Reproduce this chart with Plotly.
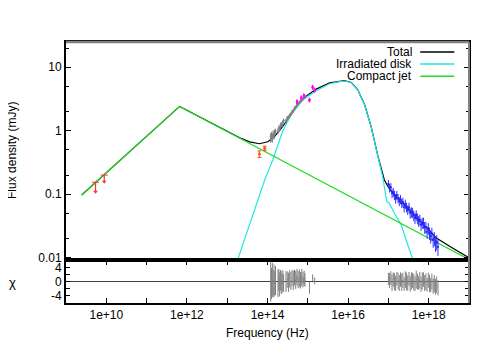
import plotly.graph_objects as go

# model curves (Hz, mJy)
jet_freq = [2.45e9, 6.61e11, 1e19]
jet_flux = [0.097, 2.42, 0.0094]

disk_freq = [1.82e13, 8.51e13, 1.35e14, 2.0e14, 2.40e14, 3.98e14, 7.59e14, 1.62e15, 3.47e15,
             6.17e15, 8.71e15, 1.20e16, 1.74e16, 2.57e16, 3.72e16, 5.50e16, 7.24e16, 9.12e16,
             1.05e17, 1.41e17, 2.09e17, 2.75e17, 4.07e17]
disk_flux = [0.0093, 0.1675, 0.346, 0.69, 1.0, 1.86, 3.09, 4.27, 5.50,
             5.92, 6.07, 5.70, 4.38, 2.54, 1.16, 0.389, 0.186, 0.0762,
             0.0719, 0.0501, 0.0327, 0.0191, 0.0091]

total_freq = [2.45e9, 6.61e11, 2.04e13, 3.63e13, 6.31e13, 1.02e14, 1.48e14, 2.19e14, 3.55e14,
              5.62e14, 9.12e14, 1.62e15, 3.47e15, 8.13e15, 1.20e16, 1.74e16, 2.57e16, 3.72e16,
              5.50e16, 6.61e16, 7.94e16, 9.77e16, 1.41e17, 2.29e17, 5.89e17, 1.55e18, 3.98e18, 1e19]
total_flux = [0.097, 2.42, 0.776, 0.668, 0.624, 0.671, 0.805, 1.09, 1.66,
              2.54, 3.51, 4.52, 5.69, 6.17, 5.75, 4.42, 2.57, 1.175,
              0.398, 0.251, 0.1675, 0.132, 0.097, 0.0719, 0.0393, 0.0204, 0.0141, 0.0100]

# radio upper limits
radio_freq = [5.4e9, 8.9e9]
radio_flux = [0.154, 0.200]
radio_tip = [0.109, 0.157]

# IR photometry (orange)
irp_freq = [6.3e13, 8.5e13]
irp_flux = [0.43, 0.53]
irp_err = [0.05, 0.04]

# IR/optical spectrum (grey)
spec_freq = [1.20e14, 1.26e14, 1.32e14, 1.38e14, 1.45e14, 1.51e14, 1.58e14,
             1.82e14, 1.91e14, 2.00e14, 2.09e14, 2.19e14, 2.29e14, 2.40e14, 2.51e14,
             2.88e14, 3.09e14, 3.31e14, 3.55e14, 3.80e14, 4.07e14, 4.37e14, 4.68e14,
             5.01e14, 5.37e14, 5.75e14, 6.17e14, 6.61e14, 7.08e14, 7.59e14, 8.13e14, 8.51e14]
spec_flux = [0.78, 0.82, 0.77, 0.88, 0.84, 0.93, 0.97,
             0.98, 1.10, 1.06, 1.20, 1.26, 1.22, 1.36, 1.45,
             1.42, 1.58, 1.62, 1.75, 1.82, 1.98, 2.06, 2.25,
             2.34, 2.55, 2.64, 2.82, 2.90, 3.10, 3.18, 3.38, 3.42]
spec_err = [0.13, 0.14, 0.12, 0.13, 0.11, 0.12, 0.11,
            0.10, 0.11, 0.09, 0.10, 0.11, 0.09, 0.10, 0.11,
            0.12, 0.13, 0.12, 0.14, 0.13, 0.15, 0.14, 0.16,
            0.15, 0.17, 0.16, 0.18, 0.17, 0.19, 0.18, 0.20, 0.19]

# optical/UV photometry (magenta)
uv_freq = [5.4e14, 6.9e14, 8.0e14, 1.1e15, 1.32e15, 1.48e15]
uv_flux = [2.86, 3.31, 3.56, 3.04, 4.82, 4.37]
uv_err = [0.22, 0.25, 0.25, 0.22, 0.35, 0.32]

# X-ray spectrum (blue)
xray_freq = [1.00e17, 1.07e17, 1.15e17, 1.23e17, 1.32e17, 1.41e17, 1.51e17, 1.62e17, 1.74e17,
             1.86e17, 2.00e17, 2.14e17, 2.29e17, 2.46e17, 2.63e17, 2.82e17, 3.02e17, 3.24e17,
             3.47e17, 3.72e17, 3.98e17, 4.27e17, 4.57e17, 4.90e17, 5.25e17, 5.62e17, 6.03e17,
             6.46e17, 6.92e17, 7.41e17, 7.94e17, 8.51e17, 9.12e17, 9.77e17, 1.05e18, 1.12e18,
             1.20e18, 1.29e18, 1.38e18, 1.48e18, 1.58e18, 1.70e18]
xray_flux = [0.145, 0.126, 0.129, 0.1035, 0.108, 0.097, 0.086, 0.0966, 0.086,
             0.0776, 0.0832, 0.0724, 0.0753, 0.0624, 0.070, 0.0624, 0.0569, 0.0624,
             0.0507, 0.0525, 0.0513, 0.0462, 0.0422, 0.0468, 0.0417, 0.038, 0.0398,
             0.0331, 0.0355, 0.0355, 0.0302, 0.0302, 0.0257, 0.0288, 0.0245, 0.0219,
             0.024, 0.0191, 0.0202, 0.0168, 0.0178, 0.0148]
xray_err = [0.022, 0.02, 0.02, 0.017, 0.018, 0.016, 0.015, 0.016, 0.014,
            0.013, 0.014, 0.012, 0.013, 0.011, 0.012, 0.011, 0.010, 0.011,
            0.0095, 0.0098, 0.0096, 0.0088, 0.0082, 0.009, 0.0081, 0.0075, 0.0078,
            0.0068, 0.0071, 0.0071, 0.0063, 0.0064, 0.0057, 0.0062, 0.0055, 0.0052,
            0.0056, 0.0048, 0.0051, 0.0045, 0.0048, 0.0042]

# residuals (chi): centre and half length of each bar
spec_res = [0.0, -0.5, 0.5, -0.3, 0.2, -0.5, 0.3,
            -0.5, 0.5, -0.8, 0.4, -0.2, -0.6, 0.3, -0.4,
            0.0, 0.6, -0.2, 0.8, 0.2, 1.0, 0.4, 1.2,
            0.5, 1.3, 0.6, 1.0, 0.4, 1.2, 0.6, 1.0, 0.5]
spec_res_len = [5.8, 4.5, 5.0, 3.8, 4.8, 3.5, 4.2,
                4.0, 3.2, 3.5, 3.0, 3.3, 2.8, 3.0, 2.6,
                3.0, 2.4, 2.8, 2.5, 2.6, 2.4, 2.8, 2.3,
                2.6, 2.4, 2.5, 2.6, 2.4, 2.5, 2.3, 2.2, 2.0]
uv_res = [0.8, 0.6, 0.3, -1.75, 1.15, 0.2]
uv_res_len = [1.0, 1.0, 1.0, 1.75, 0.95, 1.0]
xray_res = [0.8, 0.3, 1.0, -0.3, 0.6, 0.0, -0.5, 0.8, 0.2, -0.4, 0.6, -0.2, 0.4, -0.7,
            0.6, 0.0, -0.4, 0.8, -0.6, 0.2, 0.4, -0.2, -0.6, 0.6, 0.0, -0.4, 0.4, -0.8,
            0.2, 0.6, -0.4, 0.0, -0.9, 0.4, -0.5, -1.0, 0.0, -1.3, -0.6, -1.5, -0.9, -1.8]
xray_res_len = [1.8, 2.2, 2.0, 2.4, 2.1, 2.5, 2.2, 2.0, 2.4, 2.3, 2.1, 2.5, 2.2, 2.0,
                2.4, 2.6, 2.2, 2.0, 2.3, 2.5, 2.2, 2.4, 2.1, 2.6, 2.3, 2.0, 2.4, 2.2,
                2.5, 2.1, 2.3, 2.4, 2.0, 2.2, 2.5, 2.1, 2.4, 2.2, 2.5, 2.3, 2.4, 2.2]

x_ticks = [10.0 ** p for p in range(9, 20)]
x_labels = ['1e+%d' % p if p % 2 == 0 else '' for p in range(9, 20)]

FONT = 'Liberation Sans, Arial, sans-serif'
GREY = '#808080'

fig = go.Figure()

# models
fig.add_trace(go.Scatter(x=total_freq, y=total_flux, mode='lines', line=dict(color='black', width=1.2),
                         xaxis='x', yaxis='y'))
fig.add_trace(go.Scatter(x=disk_freq, y=disk_flux, mode='lines', line=dict(color='#1fe6e6', width=1.2),
                         xaxis='x', yaxis='y'))
fig.add_trace(go.Scatter(x=jet_freq, y=jet_flux, mode='lines', line=dict(color='#22dd22', width=1.2),
                         xaxis='x', yaxis='y'))

# data
fig.add_trace(go.Scatter(x=spec_freq, y=spec_flux, mode='markers', marker=dict(color=GREY, size=2),
                         error_y=dict(type='data', array=spec_err, color=GREY, thickness=1.2, width=0),
                         xaxis='x', yaxis='y'))
fig.add_trace(go.Scatter(x=xray_freq, y=xray_flux, mode='markers', marker=dict(color='#2020ff', size=2),
                         error_y=dict(type='data', array=xray_err, color='#3030ff', thickness=1, width=0),
                         error_x=dict(type='percent', value=4, color='#2020ff', thickness=1, width=0),
                         xaxis='x', yaxis='y'))
fig.add_trace(go.Scatter(x=uv_freq, y=uv_flux, mode='markers',
                         marker=dict(color='#ff00ff', size=4, symbol='diamond-tall'),
                         error_y=dict(type='data', array=uv_err, color='#ff00ff', thickness=1.5, width=0),
                         xaxis='x', yaxis='y'))
fig.add_trace(go.Scatter(x=irp_freq, y=irp_flux, mode='markers',
                         marker=dict(color='#ff5020', size=3),
                         error_y=dict(type='data', array=irp_err, color='#ff5020', thickness=1, width=2),
                         xaxis='x', yaxis='y'))
fig.add_trace(go.Scatter(x=radio_freq, y=radio_flux, mode='markers',
                         marker=dict(color='#ff3030', size=5, symbol='line-ew', line=dict(color='#ff3030', width=1)),
                         error_y=dict(type='data', symmetric=False, array=[0, 0],
                                      arrayminus=[f - t for f, t in zip(radio_flux, radio_tip)],
                                      color='#ff3030', thickness=1.2, width=0),
                         xaxis='x', yaxis='y'))
fig.add_trace(go.Scatter(x=radio_freq, y=radio_tip, mode='markers',
                         marker=dict(color='#ff3030', size=4, symbol='triangle-down'),
                         xaxis='x', yaxis='y'))

# residuals
for fr, rv, rl in [(spec_freq, spec_res, spec_res_len), (uv_freq, uv_res, uv_res_len),
                   (xray_freq, xray_res, xray_res_len)]:
    fig.add_trace(go.Scatter(x=fr, y=rv, mode='markers', marker=dict(color=GREY, size=1),
                             error_y=dict(type='data', array=rl, color=GREY, thickness=1, width=0),
                             xaxis='x2', yaxis='y2'))

axis_font = dict(family=FONT, size=12, color='black')
# the page body adds an 8px offset, so margins are shifted to compensate
fig.update_layout(
    width=491, height=342, showlegend=False,
    plot_bgcolor='white', paper_bgcolor='white',
    margin=dict(l=58, r=30, t=34, b=47),
    font=axis_font,
    xaxis=dict(type='log', range=[9, 19], domain=[0, 1], anchor='y', showticklabels=False,
               ticks='', showgrid=False, zeroline=False, showline=True, linecolor='black',
               linewidth=2, mirror=True),
    yaxis=dict(type='log', range=[-2.036, 1.398], domain=[0.165, 1], anchor='x',
               tickvals=[0.01, 0.1, 1, 10], ticktext=['0.01', '0.1', '1', '10'],
               ticks='inside', ticklen=5, tickcolor='black', showgrid=False, zeroline=False,
               showline=True, linecolor='black', linewidth=2, mirror='ticks',
               minor=dict(tickvals=[0.02, 0.05, 0.2, 0.5, 2, 5, 20], ticks='inside', ticklen=3,
                          tickcolor='black', showgrid=False)),
    xaxis2=dict(type='log', range=[9, 19], domain=[0, 1], anchor='y2', matches='x',
                tickvals=x_ticks, ticktext=x_labels, ticks='inside', ticklen=5, tickcolor='black',
                showgrid=False, zeroline=False, showline=True, linecolor='black', linewidth=2,
                mirror='ticks'),
    yaxis2=dict(range=[-6.2, 6.3], domain=[0, 0.165], anchor='x2',
                tickvals=[-4, -2, 0, 2, 4], ticktext=['-4', '', '0', '', '4'],
                ticks='inside', ticklen=4, tickcolor='black', showgrid=False,
                zeroline=True, zerolinecolor='#404040', zerolinewidth=1,
                showline=True, linecolor='black', linewidth=2, mirror='ticks'),
)

# grey top and right border
fig.add_shape(type='line', xref='paper', yref='paper', x0=0, x1=1, y0=1, y1=1,
              line=dict(color=GREY, width=2.5))
fig.add_shape(type='line', xref='paper', yref='paper', x0=1, x1=1, y0=0, y1=1,
              line=dict(color=GREY, width=2))

# legend (text left of sample line)
legend_items = [('Total', 'black'), ('Irradiated disk', '#1fe6e6'), ('Compact jet', '#22dd22')]
for i, (name, col) in enumerate(legend_items):
    yy = 0.962 - i * 0.0465
    fig.add_annotation(text=name, xref='paper', yref='paper', x=0.862, y=yy,
                       xanchor='right', yanchor='middle', showarrow=False, borderpad=0,
                       font=dict(family=FONT, size=12, color='black'))
    fig.add_shape(type='line', xref='paper', yref='paper', x0=0.879, x1=0.9635, y0=yy, y1=yy,
                  line=dict(color=col, width=1.5))

# axis titles
fig.add_annotation(text='Flux density (mJy)', xref='paper', yref='paper', x=-0.1355, y=0.584,
                   textangle=-90, showarrow=False, xanchor='center', yanchor='middle',
                   font=dict(family=FONT, size=12, color='black'))
fig.add_annotation(text='χ', xref='paper', yref='paper', x=-0.132, y=0.08,
                   showarrow=False, xanchor='center', yanchor='middle',
                   font=dict(family=FONT, size=13, color='black'))
fig.add_annotation(text='Frequency (Hz)', xref='paper', yref='paper', x=0.5, y=-0.115,
                   showarrow=False, xanchor='center', yanchor='middle',
                   font=dict(family=FONT, size=12, color='black'))

fig.write_html("out.html")
